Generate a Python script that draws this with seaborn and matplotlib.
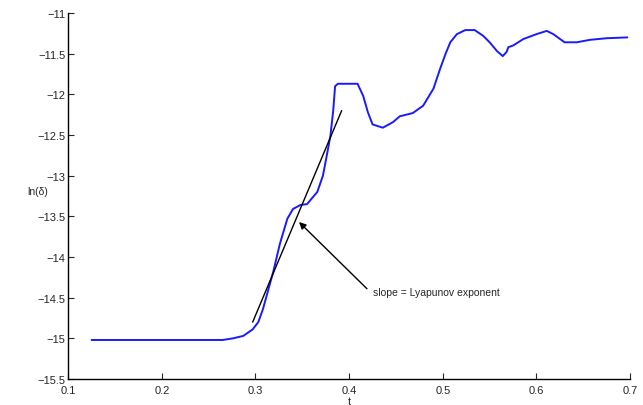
import numpy as np
import pandas as pd
import matplotlib
matplotlib.use("Agg")
import matplotlib.pyplot as plt
import seaborn as sns

# blue curve: ln(delta) vs t
t_vals = [0.125, 0.20, 0.265, 0.276, 0.287, 0.297, 0.303, 0.308, 0.313, 0.319,
          0.326, 0.334, 0.340, 0.348, 0.355, 0.366, 0.372, 0.376, 0.380, 0.383,
          0.385, 0.388, 0.409, 0.415, 0.420, 0.425, 0.436, 0.447, 0.454, 0.468,
          0.479, 0.490, 0.497, 0.503, 0.508, 0.515, 0.524, 0.534, 0.543, 0.550,
          0.558, 0.564, 0.568, 0.570, 0.575, 0.586, 0.600, 0.611, 0.618, 0.630,
          0.643, 0.657, 0.675, 0.697]
ln_delta = [-15.02, -15.02, -15.02, -15.00, -14.97, -14.89, -14.80, -14.64, -14.43, -14.18,
            -13.84, -13.53, -13.41, -13.36, -13.35, -13.20, -13.00, -12.76, -12.51, -12.20,
            -11.90, -11.87, -11.87, -12.02, -12.22, -12.37, -12.41, -12.34, -12.27, -12.23,
            -12.14, -11.93, -11.69, -11.50, -11.36, -11.26, -11.21, -11.21, -11.28, -11.36,
            -11.47, -11.53, -11.48, -11.42, -11.40, -11.32, -11.26, -11.22, -11.26, -11.36,
            -11.36, -11.33, -11.31, -11.30]

# fitted slope line
fit_t = [0.297, 0.392]
fit_y = [-14.80, -12.20]

# annotation
note_text = "slope = Lyapunov exponent"
note_tip = (0.3465, -13.57)
note_tail = (0.419, -14.39)

x_ticks = [0.1, 0.2, 0.3, 0.4, 0.5, 0.6, 0.7]
y_ticks = [-15.5, -15, -14.5, -14, -13.5, -13, -12.5, -12, -11.5, -11]

sns.set_style("ticks")
plt.rcParams['font.family'] = ['Liberation Sans', 'DejaVu Sans']
plt.rcParams['xtick.direction'] = 'in'
plt.rcParams['ytick.direction'] = 'in'

df = pd.DataFrame({"t": t_vals, "ln": ln_delta})

fig = plt.figure(figsize=(6.43, 4.06), dpi=100)
ax = fig.add_axes([0.106, 0.064, 0.874, 0.9015])

sns.lineplot(data=df, x="t", y="ln", ax=ax, color="#1a1aff", linewidth=1.4)
ax.plot(fit_t, fit_y, color="black", linewidth=1.0)

ax.annotate("", xy=note_tip, xytext=note_tail,
            arrowprops=dict(arrowstyle="-|>", color="black", lw=1.0,
                            mutation_scale=10, shrinkA=0, shrinkB=0))
ax.text(note_tail[0] + 0.006, note_tail[1] - 0.04, note_text,
        fontsize=7.5, va="center", ha="left")

ax.set_xlim(0.1, 0.7)
ax.set_ylim(-15.5, -11)
ax.set_xticks(x_ticks)
ax.set_xticklabels([f"{v:g}" for v in x_ticks], fontsize=8)
ax.set_yticks(y_ticks)
ax.set_yticklabels([f"{v:g}".replace("-", "\u2212") for v in y_ticks], fontsize=8)
ax.tick_params(length=4, width=0.8)
ax.tick_params(axis="y", pad=2)
ax.tick_params(axis="x", pad=4)
ax.set_xlabel("t", fontsize=8, labelpad=1)
ax.set_ylabel("ln(δ)", fontsize=7.5, rotation=0, labelpad=10)
ax.yaxis.set_label_coords(-0.055, 0.5)

sns.despine(ax=ax)
for s in ("left", "bottom"):
    ax.spines[s].set_linewidth(1.0)
    ax.spines[s].set_color("black")

fig.savefig("out.png", dpi=100)
